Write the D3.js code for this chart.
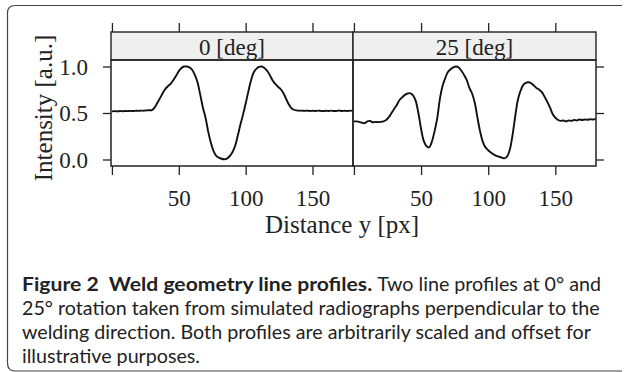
<!DOCTYPE html>
<html>
<head>
<meta charset="utf-8">
<script src="https://cdn.jsdelivr.net/npm/d3@7"></script>
<style>
  html, body { margin: 0; padding: 0; background: #fff; }
  svg { display: block; }
</style>
</head>
<body>
<svg id="fig" width="626" height="372"></svg>
<script>
// Distance along the profile (px), shared by both panels
const distance = [
  0, 2, 4, 6, 8, 10, 12, 14, 16, 18, 20, 22, 24, 26, 28, 30, 32, 34, 36, 38,
  40, 42, 44, 46, 48, 50, 52, 54, 56, 58, 60, 62, 64, 66, 68, 70, 72, 74, 76, 78,
  80, 82, 84, 86, 88, 90, 92, 94, 96, 98, 100, 102, 104, 106, 108, 110, 112, 114, 116, 118,
  120, 122, 124, 126, 128, 130, 132, 134, 136, 138, 140, 142, 144, 146, 148, 150, 152, 154, 156, 158,
  160, 162, 164, 166, 168, 170, 172, 174, 176, 178, 180
];

// Intensity profile at 0 deg rotation
const profile0 = [
  0.517, 0.520, 0.518, 0.521, 0.519, 0.522, 0.520, 0.523, 0.521, 0.524, 0.523, 0.526, 0.525, 0.528, 0.530, 0.532, 0.560, 0.610, 0.660, 0.715,
  0.760, 0.790, 0.815, 0.855, 0.900, 0.950, 0.985, 1.000, 1.000, 0.990, 0.965, 0.910, 0.830, 0.700, 0.560, 0.450, 0.300, 0.180, 0.090, 0.040,
  0.020, 0.008, 0.003, 0.010, 0.035, 0.075, 0.140, 0.250, 0.370, 0.480, 0.600, 0.730, 0.850, 0.935, 0.975, 0.995, 1.000, 0.985, 0.955, 0.910,
  0.855, 0.815, 0.785, 0.760, 0.720, 0.660, 0.600, 0.555, 0.535, 0.528, 0.525, 0.526, 0.523, 0.525, 0.522, 0.524, 0.521, 0.525, 0.523, 0.520,
  0.524, 0.522, 0.525, 0.521, 0.523, 0.526, 0.522, 0.524, 0.521, 0.525, 0.523
];

// Intensity profile at 25 deg rotation
const profile25 = [
  0.410, 0.410, 0.405, 0.395, 0.390, 0.410, 0.415, 0.400, 0.405, 0.402, 0.405, 0.410, 0.425, 0.455, 0.500, 0.545, 0.590, 0.640, 0.670, 0.695,
  0.710, 0.712, 0.690, 0.630, 0.500, 0.330, 0.200, 0.145, 0.130, 0.190, 0.300, 0.440, 0.650, 0.790, 0.875, 0.940, 0.970, 0.990, 1.000, 0.990,
  0.955, 0.910, 0.855, 0.770, 0.710, 0.610, 0.450, 0.300, 0.190, 0.130, 0.100, 0.075, 0.055, 0.040, 0.030, 0.020, 0.012, 0.030, 0.100, 0.250,
  0.450, 0.635, 0.735, 0.800, 0.825, 0.830, 0.820, 0.795, 0.770, 0.750, 0.725, 0.675, 0.620, 0.560, 0.490, 0.450, 0.425, 0.415, 0.420, 0.410,
  0.420, 0.415, 0.425, 0.420, 0.430, 0.425, 0.430, 0.428, 0.432, 0.430, 0.437
];

const panelLabels = ["0 [deg]", "25 [deg]"];
const xTicks = [0, 50, 100, 150];
const yTicks = [0.0, 0.5, 1.0];
const xTitle = "Distance y [px]";
const yTitle = "Intensity [a.u.]";
const captionBold = "Figure 2\u00a0 Weld geometry line profiles.";
const captionLines = [
  "Two line profiles at 0\u00b0 and",
  "25\u00b0 rotation taken from simulated radiographs perpendicular to the",
  "welding direction. Both profiles are arbitrarily scaled and offset for",
  "illustrative purposes."
];

const svg = d3.select("#fig");
const serif = "'Liberation Serif', 'Times New Roman', serif";
const sans = "Lato, 'Open Sans', 'Noto Sans', sans-serif";

// Figure frame (open on the right)
svg.append("path")
  .attr("d", "M 622,5.5 H 15 Q 7.5,5.5 7.5,13 V 363 Q 7.5,371 15,371 H 622")
  .attr("fill", "none").attr("stroke", "#444").attr("stroke-width", 1.2);

// Panel geometry
const panelTop = 60, panelBottom = 166, stripTop = 32;
const panels = [
  { x0: 111, x1: 353, data: profile0, label: panelLabels[0] },
  { x0: 353, x1: 596, data: profile25, label: panelLabels[1] }
];

const y = d3.scaleLinear().domain([-0.07, 1.07]).range([panelBottom, panelTop]);

panels.forEach((p, i) => {
  const x = d3.scaleLinear().domain([-0.7, 180.3]).range([p.x0, p.x1]);
  const g = svg.append("g");

  // strip
  g.append("rect")
    .attr("x", p.x0).attr("y", stripTop)
    .attr("width", p.x1 - p.x0).attr("height", panelTop - stripTop)
    .attr("fill", "#efefef").attr("stroke", "#222").attr("stroke-width", 1.4);
  g.append("text")
    .attr("x", (p.x0 + p.x1) / 2).attr("y", 54.5)
    .attr("text-anchor", "middle")
    .attr("font-family", serif).attr("font-size", 23)
    .attr("fill", "#222")
    .text(p.label);

  // bottom axis with labels
  const axB = d3.axisBottom(x).tickValues(xTicks).tickSize(9).tickSizeOuter(0)
    .tickFormat(d => d === 0 ? "" : d3.format("d")(d));
  const gb = g.append("g").attr("transform", `translate(0,${panelBottom})`).call(axB);
  // top axis ticks only
  const axT = d3.axisTop(x).tickValues(xTicks).tickSize(9).tickSizeOuter(0).tickFormat("");
  const gt = g.append("g").attr("transform", `translate(0,${stripTop})`).call(axT);

  [gb, gt].forEach(ax => {
    ax.select(".domain").remove();
    ax.selectAll(".tick line").attr("stroke", "#222").attr("stroke-width", 1.3);
    ax.selectAll(".tick text")
      .attr("font-family", serif).attr("font-size", 23).attr("fill", "#222")
      .attr("dy", null).attr("y", 40);
  });

  // y axis: labelled on the left panel, ticks only on the right of the right panel
  if (i === 0) {
    const axL = d3.axisLeft(y).tickValues(yTicks).tickSize(8).tickSizeOuter(0)
      .tickFormat(d3.format(".1f"));
    const gl = g.append("g").attr("transform", `translate(${p.x0},0)`).call(axL);
    gl.select(".domain").remove();
    gl.selectAll(".tick line").attr("stroke", "#222").attr("stroke-width", 1.3);
    gl.selectAll(".tick text")
      .attr("font-family", serif).attr("font-size", 23).attr("fill", "#222")
      .attr("x", -23).attr("dy", "0.34em");
  } else {
    const axR = d3.axisRight(y).tickValues(yTicks).tickSize(8).tickSizeOuter(0).tickFormat("");
    const gr = g.append("g").attr("transform", `translate(${p.x1},0)`).call(axR);
    gr.select(".domain").remove();
    gr.selectAll(".tick line").attr("stroke", "#222").attr("stroke-width", 1.3);
  }

  // profile line
  const line = d3.line()
    .x((d, k) => x(distance[k]))
    .y(d => y(d))
    .curve(d3.curveCatmullRom.alpha(0.5));
  g.append("path")
    .datum(p.data)
    .attr("d", line)
    .attr("fill", "none").attr("stroke", "#111").attr("stroke-width", 1.9)
    .attr("stroke-linejoin", "round");

  // panel border
  g.append("rect")
    .attr("x", p.x0).attr("y", panelTop)
    .attr("width", p.x1 - p.x0).attr("height", panelBottom - panelTop)
    .attr("fill", "none").attr("stroke", "#222").attr("stroke-width", 1.5);
});

// axis titles
svg.append("text")
  .attr("x", 342).attr("y", 233)
  .attr("text-anchor", "middle")
  .attr("font-family", serif).attr("font-size", 25).attr("fill", "#222")
  .text(xTitle);
svg.append("text")
  .attr("transform", "translate(52,108) rotate(-90)")
  .attr("text-anchor", "middle")
  .attr("font-family", serif).attr("font-size", 25).attr("fill", "#222")
  .text(yTitle);

// caption: size the type so the full second line spans the text column
const capLeft = 22, capRight = 600;
const cap = svg.append("g").attr("font-family", sans).attr("fill", "#222");
const probe = cap.append("text").attr("font-size", 17).text(captionLines[1]);
const capSize = 17 * (capRight - capLeft) / probe.node().getComputedTextLength();
probe.remove();
cap.attr("font-size", capSize);

const lineY = [291, 315, 339, 363];
// first line: regular part set flush right, bold part fills the rest
const reg1 = cap.append("text")
  .attr("x", 601).attr("y", lineY[0]).attr("text-anchor", "end")
  .text(captionLines[0]);
const reg1Start = 601 - reg1.node().getComputedTextLength();
cap.append("text")
  .attr("x", capLeft).attr("y", lineY[0])
  .attr("font-weight", "bold")
  .attr("textLength", reg1Start - 5 - capLeft).attr("lengthAdjust", "spacingAndGlyphs")
  .text(captionBold);
captionLines.slice(1).forEach((t, j) => {
  cap.append("text")
    .attr("x", capLeft).attr("y", lineY[j + 1])
    .text(t);
});
</script>
</body>
</html>
